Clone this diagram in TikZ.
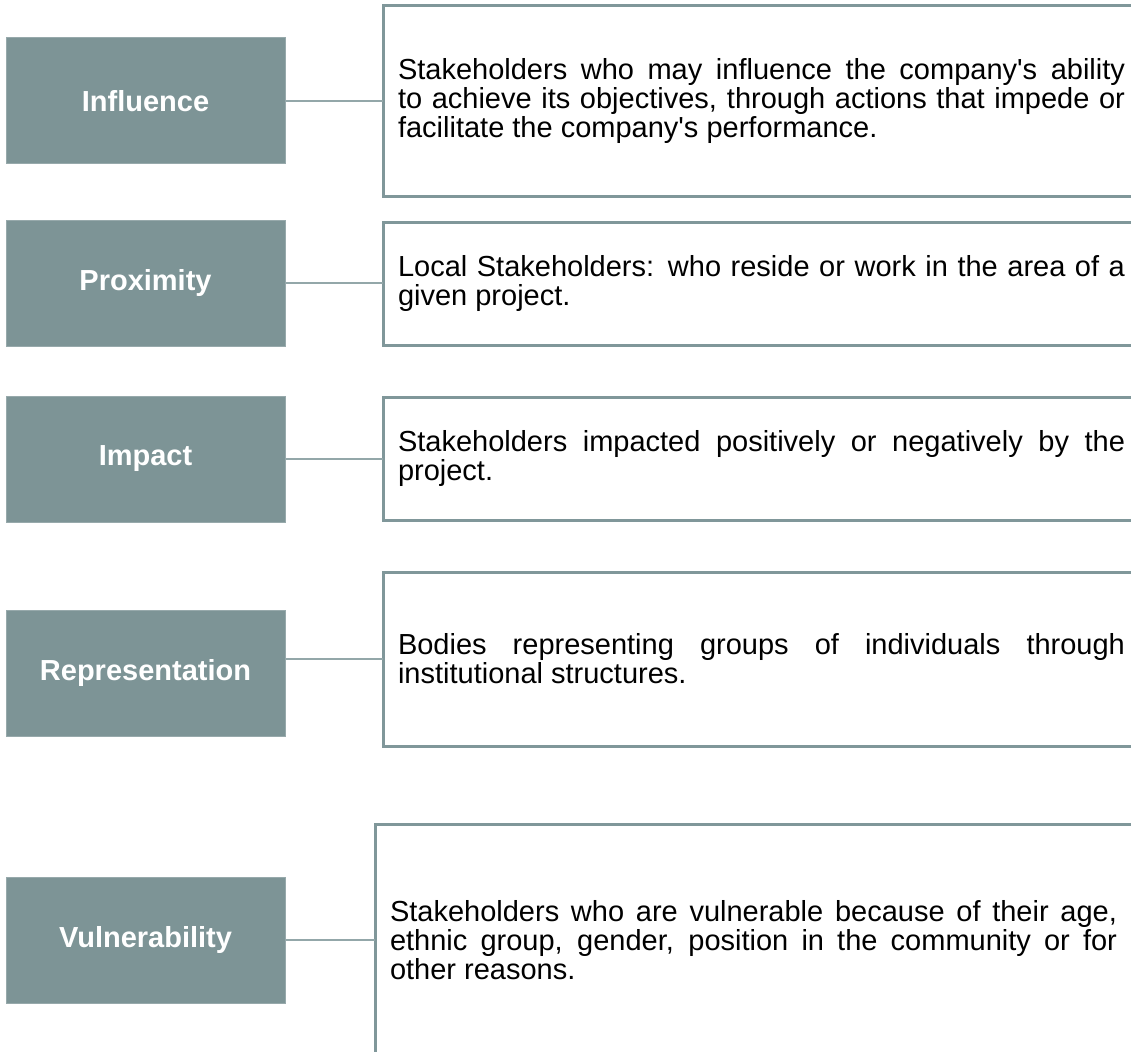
\documentclass[tikz,border=0pt]{standalone}
\usepackage{fontspec}
\setmainfont{Liberation Sans}
\definecolor{catfill}{RGB}{125, 148, 150}
\definecolor{catline}{RGB}{128, 151, 154}
\newcommand{\descfont}{\fontsize{29}{29}\selectfont\lineskiplimit=-100pt\relax
    \tolerance=10000\relax\hbadness=10000\relax}

\begin{document}
\begin{tikzpicture}[
    x=1pt, y=-1pt,
    category/.style={
        rectangle, fill=catfill, draw=catfill!80,
        line width=1pt,
        minimum width=279pt, minimum height=126pt,
        text=white,
        font=\fontsize{29}{34}\selectfont\bfseries
    },
    descbox/.style={
        rectangle, anchor=north west, outer sep=0pt,
        draw=catline, line width=3pt,
        inner xsep=15pt, inner ysep=0pt,
        text width=727pt, align=justify,
        font=\descfont
    },
    link/.style={
        draw=catline!85, line width=2.5pt
    }
]
\useasboundingbox (0,0) rectangle (1131,1051);
\clip (0,0) rectangle (1131,1051);

% Categories
\node[category] (influence) at (145.5,101) {Influence};
\node[category] (proximity) at (145.5,283) {Proximity};
\node[category] (impact) at (145.5,459) {Impact};
\node[category] (representation) at (145.5,673) {Representation};
\node[category] (vulnerability) at (145.5,940) {Vulnerability};

% Descriptions
\node[descbox, minimum height=190pt] (influencedesc) at (383,6) {Stakeholders who may influence the company\textquotesingle s ability\linebreak to achieve its objectives, through actions that impede or\linebreak facilitate the company\textquotesingle s performance.};
\node[descbox, minimum height=123pt] (proximitydesc) at (383,222) {Local Stakeholders: who reside or work in the area of a\linebreak given project.};
\node[descbox, minimum height=123pt] (impactdesc) at (383,397) {Stakeholders impacted positively or negatively by the\linebreak project.};
\node[descbox, minimum height=174pt] (representationdesc) at (383,572) {Bodies representing groups of individuals through\linebreak institutional structures.};
\node[descbox, minimum height=232pt] (vulnerabilitydesc) at (375,824) {Stakeholders who are vulnerable because of their age,\linebreak ethnic group, gender, position in the community or for\linebreak other reasons.};

% Connectors
\draw[link] (influence.east) -- (influence.east -| influencedesc.west);
\draw[link] (proximity.east) -- (proximity.east -| proximitydesc.west);
\draw[link] (impact.east) -- (impact.east -| impactdesc.west);
\draw[link] (representation.east |- representationdesc.west) -- (representationdesc.west);
\draw[link] (vulnerability.east) -- (vulnerability.east -| vulnerabilitydesc.west);

\end{tikzpicture}
\end{document}
